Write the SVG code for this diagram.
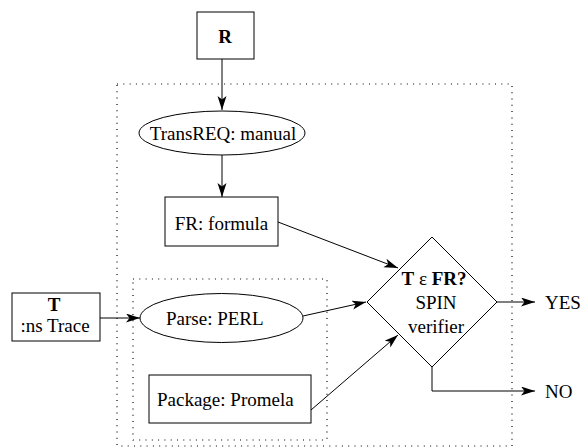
<svg xmlns="http://www.w3.org/2000/svg" width="582" height="448" viewBox="0 0 582 448">
<style>
.n{fill:#fff;stroke:#000;stroke-width:1}
.d{fill:none;stroke:#000;stroke-width:1.2;stroke-dasharray:1 5.3}
.c{fill:none;stroke:#000;stroke-width:1}
text{font-family:"Liberation Serif","Times New Roman",serif;font-size:19px;fill:#000}
.b{font-weight:bold}
.m{text-anchor:middle}
</style>
<defs>
<marker id="ah" markerUnits="userSpaceOnUse" markerWidth="15" markerHeight="10" refX="14" refY="4.5" orient="auto">
<path d="M0,0 L14,4.5 L0,9 L3.5,4.5 z" fill="#000"/>
</marker>
</defs>
<rect class="d" x="117" y="84" width="395" height="362"/>
<rect class="d" x="133" y="279" width="194" height="161"/>
<g id="connectors">
<line class="c" x1="222" y1="59" x2="222" y2="110" marker-end="url(#ah)"/>
<line class="c" x1="222" y1="155" x2="222" y2="197" marker-end="url(#ah)"/>
<line class="c" x1="278" y1="222" x2="398" y2="268" marker-end="url(#ah)"/>
<line class="c" x1="100" y1="318" x2="140" y2="318" marker-end="url(#ah)"/>
<line class="c" x1="303" y1="316" x2="366" y2="302" marker-end="url(#ah)"/>
<line class="c" x1="311" y1="410" x2="398" y2="335" marker-end="url(#ah)"/>
<line class="c" x1="497" y1="302" x2="535" y2="302" marker-end="url(#ah)"/>
<polyline class="c" points="432,367 432,391 535,391" marker-end="url(#ah)"/>
</g>
<g id="R">
<rect class="n" x="197" y="12" width="57" height="47"/>
<text class="b m" x="225" y="43">R</text>
</g>
<g id="TransREQ">
<ellipse class="n" cx="222" cy="133" rx="83" ry="22"/>
<text class="m" x="223" y="140">TransREQ: manual</text>
</g>
<g id="FR">
<rect class="n" x="165" y="197" width="113" height="49"/>
<text class="m" x="221.5" y="230">FR: formula</text>
</g>
<g id="T">
<rect class="n" x="12" y="293" width="88" height="48"/>
<text class="b m" x="54" y="311">T</text>
<text class="m" x="55" y="332">:ns Trace</text>
</g>
<g id="Parse">
<ellipse class="n" cx="221.5" cy="318" rx="81.5" ry="24.5"/>
<text x="166" y="325">Parse: PERL</text>
</g>
<g id="Package">
<rect class="n" x="149" y="375" width="162" height="48"/>
<text x="157" y="406">Package: Promela</text>
</g>
<g id="SPIN">
<polygon class="n" points="432,237 497,302 432,367 367,302"/>
<text class="m" x="434" y="285"><tspan class="b">T</tspan> ε <tspan class="b">FR?</tspan></text>
<text class="m" x="436" y="309">SPIN</text>
<text class="m" x="436" y="333">verifier</text>
</g>
<g id="outcomes">
<text x="545" y="309">YES</text>
<text x="545" y="398">NO</text>
</g>
</svg>
